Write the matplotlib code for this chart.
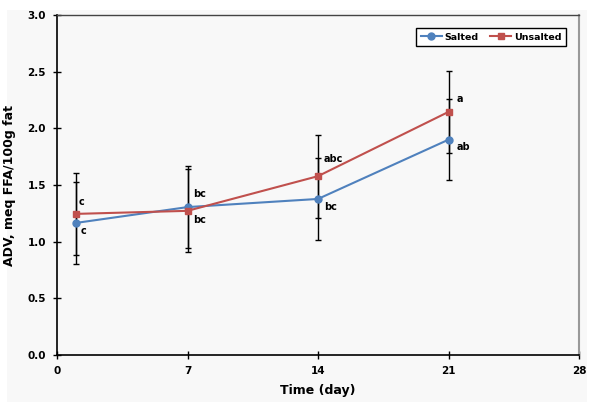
import matplotlib.pyplot as plt
from matplotlib.patches import Rectangle

days = [1, 7, 14, 21]
salted = [1.165, 1.305, 1.377, 1.90]
unsalted = [1.245, 1.272, 1.578, 2.145]
salted_err = [0.365, 0.365, 0.36, 0.36]
unsalted_err = [0.365, 0.365, 0.365, 0.36]

salted_letters = ['c', 'bc', 'bc', 'ab']
unsalted_letters = ['c', 'bc', 'abc', 'a']
# pixel offsets of the letter labels from their points
salted_off = [(5, -8), (6, 13), (6, -8), (8, -7)]
unsalted_off = [(3, 12), (6, -9), (6, 17), (8, 13)]

BLUE = '#4F81BD'
RED = '#C0504D'

fig = plt.figure(figsize=(5.95, 4.08), dpi=100)
fig.patch.set_facecolor('white')
fig.patches.append(Rectangle((7 / 595, 6 / 408), 580 / 595, 392 / 408,
                             transform=fig.transFigure, facecolor='#f8f8f8',
                             edgecolor='none', zorder=-10))

ax = fig.add_axes([57 / 595, 53 / 408, 522 / 595, 340 / 408])
ax.set_facecolor('#f8f8f8')

ax.errorbar(days, salted, yerr=salted_err, fmt='none', ecolor='black',
            elinewidth=1, capsize=2.5, capthick=1, zorder=2)
ax.errorbar(days, unsalted, yerr=unsalted_err, fmt='none', ecolor='black',
            elinewidth=1, capsize=2.5, capthick=1, zorder=2)
ax.plot(days, salted, '-o', color=BLUE, lw=1.5, ms=5, label='Salted', zorder=3)
ax.plot(days, unsalted, '-s', color=RED, lw=1.5, ms=5, label='Unsalted', zorder=3)

for x, y, t, o in zip(days, salted, salted_letters, salted_off):
    ax.annotate(t, (x, y), xytext=o, textcoords='offset pixels',
                fontsize=7, fontweight='bold', va='center', ha='left')
for x, y, t, o in zip(days, unsalted, unsalted_letters, unsalted_off):
    ax.annotate(t, (x, y), xytext=o, textcoords='offset pixels',
                fontsize=7, fontweight='bold', va='center', ha='left')

ax.set_xlim(0, 28)
ax.set_ylim(0, 3.0)
ax.set_xticks([0, 7, 14, 21, 28])
ax.set_yticks([0.0, 0.5, 1.0, 1.5, 2.0, 2.5, 3.0])
ax.set_yticklabels(['0.0', '0.5', '1.0', '1.5', '2.0', '2.5', '3.0'])
ax.tick_params(direction='inout', length=6, width=1, labelsize=7.5, pad=5)
for lab in ax.get_xticklabels() + ax.get_yticklabels():
    lab.set_fontweight('bold')

ax.spines['left'].set_linewidth(1.2)
ax.spines['bottom'].set_linewidth(1.2)
ax.spines['top'].set_linewidth(1)
ax.spines['top'].set_color('#444444')
ax.spines['right'].set_linewidth(1.5)
ax.spines['right'].set_color('#999999')

ax.set_xlabel('Time (day)', fontsize=9, fontweight='bold', labelpad=6)
ax.set_ylabel('ADV, meq FFA/100g fat', fontsize=9, fontweight='bold', labelpad=8)

leg = ax.legend(loc='upper right', ncol=2, bbox_to_anchor=(0.975, 0.962),
                borderaxespad=0, fontsize=6.8, fancybox=False,
                edgecolor='black', framealpha=1, handlelength=2.2,
                columnspacing=1.2, borderpad=0.5, handletextpad=0.3)
for t in leg.get_texts():
    t.set_fontweight('bold')
leg.get_frame().set_linewidth(1)

fig.savefig('out.png', dpi=100)
